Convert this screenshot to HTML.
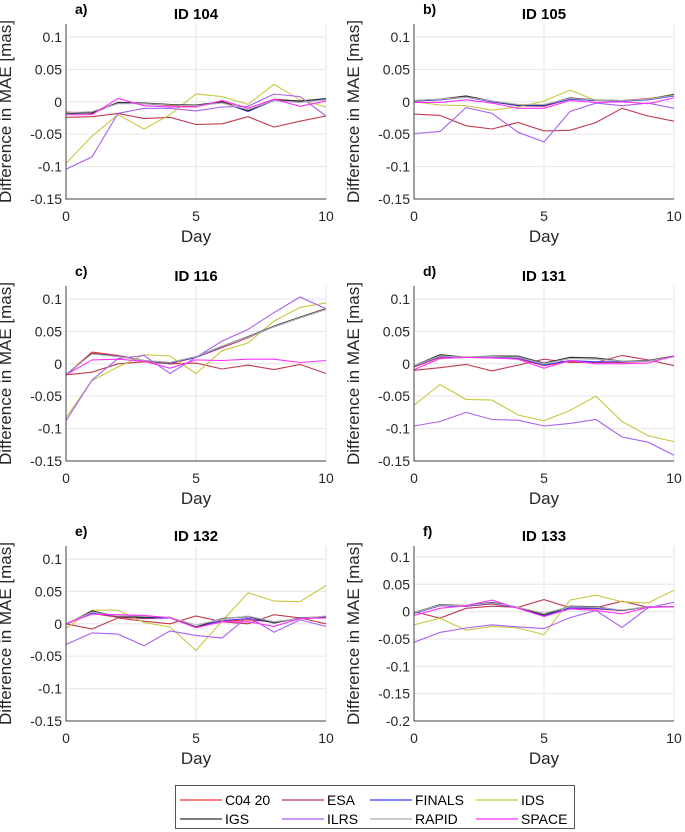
<!DOCTYPE html>
<html><head><meta charset="utf-8"><style>
body{margin:0;background:#fff;}
svg{display:block;font-family:"Liberation Sans",Arial,sans-serif;}
</style></head><body>
<svg id="fig" width="685" height="832" viewBox="0 0 685 832"></svg>
<script>
const days = [0,1,2,3,4,5,6,7,8,9,10];
const seriesNames = ["C04 20","ESA","FINALS","IDS","IGS","ILRS","RAPID","SPACE"];
const seriesColors = ["#ff3030","#c03a50","#3a3aff","#c8c840","#303030","#a860f0","#b0b0b0","#ff30ff"];
const panelIds = ["ID 104","ID 105","ID 116","ID 131","ID 132","ID 133"];
const panelLetters = ["a)","b)","c)","d)","e)","f)"];
const yTicksA = [-0.15,-0.1,-0.05,0,0.05,0.1];
const yTickLabelsA = ["-0.15","-0.1","-0.05","0","0.05","0.1"];
const yTicksF = [-0.2,-0.15,-0.1,-0.05,0,0.05,0.1];
const yTickLabelsF = ["-0.2","-0.15","-0.1","-0.05","0","0.05","0.1"];
const xTicks = [0,5,10];
// values per panel, ordered as seriesNames
const p104 = [
 [-0.016,-0.018,-0.001,-0.003,-0.006,-0.007,0.001,-0.014,0.004,0.001,0.004],
 [-0.024,-0.023,-0.018,-0.026,-0.024,-0.035,-0.034,-0.023,-0.039,-0.030,-0.022],
 [-0.018,-0.017,-0.002,-0.003,-0.005,-0.006,-0.001,-0.015,0.002,0.000,0.004],
 [-0.095,-0.053,-0.020,-0.042,-0.020,0.012,0.008,-0.004,0.027,0.003,-0.008],
 [-0.018,-0.017,-0.001,-0.002,-0.004,-0.005,0.000,-0.014,0.003,0.001,0.005],
 [-0.104,-0.085,-0.018,-0.010,-0.010,-0.014,-0.008,-0.007,0.012,0.008,-0.022],
 [-0.017,-0.015,-0.003,-0.003,-0.005,-0.006,-0.002,-0.012,0.002,-0.001,0.003],
 [-0.020,-0.020,0.005,-0.006,-0.008,-0.008,0.002,-0.010,0.004,-0.007,0.001]];
const p105 = [
 [0.001,0.003,0.008,0.000,-0.006,-0.007,0.004,0.002,0.002,0.005,0.009],
 [-0.019,-0.021,-0.037,-0.042,-0.032,-0.045,-0.044,-0.032,-0.010,-0.022,-0.030],
 [0.001,0.003,0.007,0.000,-0.006,-0.006,0.004,0.002,0.001,0.003,0.009],
 [0.000,-0.005,-0.006,-0.013,-0.008,0.001,0.018,0.002,0.002,0.004,0.012],
 [0.002,0.004,0.009,0.001,-0.005,-0.005,0.006,0.003,0.002,0.004,0.011],
 [-0.049,-0.046,-0.009,-0.018,-0.047,-0.062,-0.015,-0.002,-0.006,-0.002,-0.010],
 [0.002,0.004,0.007,0.001,-0.004,-0.004,0.005,0.003,0.002,0.004,0.010],
 [-0.001,-0.001,0.003,-0.002,-0.010,-0.010,0.002,-0.001,0.000,-0.003,0.006]];
const p116 = [
 [-0.017,0.018,0.013,0.005,0.000,0.010,0.025,0.040,0.058,0.072,0.085],
 [-0.017,-0.013,0.000,0.003,0.000,0.001,-0.008,-0.002,-0.009,-0.001,-0.015],
 [-0.017,0.016,0.012,0.005,0.001,0.010,0.026,0.041,0.057,0.071,0.084],
 [-0.083,-0.026,-0.005,0.014,0.012,-0.015,0.020,0.032,0.066,0.087,0.094],
 [-0.017,0.016,0.011,0.005,0.002,0.011,0.027,0.042,0.058,0.072,0.085],
 [-0.088,-0.025,0.008,0.013,-0.015,0.010,0.035,0.053,0.079,0.103,0.085],
 [-0.016,0.015,0.011,0.005,0.002,0.011,0.027,0.041,0.057,0.071,0.084],
 [-0.017,0.006,0.007,0.004,-0.007,0.006,0.005,0.007,0.007,0.002,0.005]];
const p131 = [
 [-0.005,0.010,0.010,0.009,0.008,-0.003,0.004,0.002,0.002,0.004,0.011],
 [-0.010,-0.006,-0.001,-0.011,-0.002,0.007,0.002,0.002,0.013,0.006,-0.003],
 [-0.004,0.011,0.010,0.010,0.009,-0.002,0.005,0.003,0.003,0.004,0.011],
 [-0.064,-0.032,-0.055,-0.056,-0.079,-0.088,-0.072,-0.050,-0.089,-0.111,-0.120],
 [-0.003,0.014,0.010,0.012,0.012,0.001,0.010,0.009,0.004,0.005,0.012],
 [-0.096,-0.089,-0.075,-0.086,-0.087,-0.096,-0.092,-0.086,-0.113,-0.121,-0.141],
 [-0.003,0.012,0.010,0.011,0.010,0.000,0.008,0.007,0.004,0.004,0.011],
 [-0.009,0.008,0.010,0.009,0.007,-0.007,0.005,0.000,0.000,0.001,0.012]];
const p132 = [
 [0.000,0.016,0.010,0.008,0.009,-0.006,0.004,0.006,0.003,0.008,0.010],
 [0.000,-0.008,0.009,0.004,0.000,0.012,0.003,0.000,0.014,0.009,0.000],
 [0.000,0.017,0.011,0.009,0.009,-0.005,0.005,0.008,0.002,0.008,0.010],
 [-0.007,0.021,0.021,0.002,-0.005,-0.041,0.004,0.048,0.035,0.034,0.059],
 [-0.001,0.020,0.011,0.010,0.010,-0.005,0.008,0.011,0.001,0.009,0.011],
 [-0.032,-0.014,-0.016,-0.034,-0.011,-0.018,-0.022,0.011,-0.013,0.006,-0.004],
 [0.000,0.018,0.012,0.012,0.010,-0.002,0.007,0.012,0.003,0.008,0.012],
 [0.000,0.015,0.014,0.013,0.009,-0.006,0.003,0.003,-0.004,0.008,0.009]];
const p133 = [
 [-0.003,0.011,0.010,0.014,0.007,-0.008,0.006,0.005,0.002,0.009,0.009],
 [0.000,-0.012,0.006,0.010,0.008,0.022,0.007,0.007,0.019,0.008,0.009],
 [-0.003,0.011,0.010,0.015,0.007,-0.007,0.007,0.006,0.002,0.009,0.009],
 [-0.024,-0.012,-0.034,-0.027,-0.030,-0.042,0.021,0.030,0.018,0.016,0.039],
 [-0.002,0.013,0.011,0.017,0.008,-0.006,0.010,0.009,0.002,0.009,0.009],
 [-0.056,-0.038,-0.030,-0.024,-0.028,-0.031,-0.011,0.002,-0.029,0.007,0.017],
 [-0.002,0.012,0.011,0.016,0.008,-0.003,0.009,0.008,0.003,0.009,0.009],
 [-0.007,0.006,0.011,0.021,0.006,-0.009,0.005,0.002,-0.004,0.008,0.009]];
const panelData = [p104,p105,p116,p131,p132,p133];

const NS = "http://www.w3.org/2000/svg";
const svg = document.getElementById('fig');
function mk(tag, attrs, parent){
  const e = document.createElementNS(NS, tag);
  for (const k in attrs) e.setAttribute(k, attrs[k]);
  (parent||svg).appendChild(e);
  return e;
}
const colX = [66, 414], rowY = [24, 286, 546], PW = 260, PH = 175;

panelData.forEach((data, pi) => {
  const x0 = colX[pi % 2], y0 = rowY[Math.floor(pi / 2)];
  const isF = pi === 5;
  const yMin = isF ? -0.2 : -0.15, yMax = 0.12;
  const ticks = isF ? yTicksF : yTicksA;
  const tickLabels = isF ? yTickLabelsF : yTickLabelsA;
  const sx = d => x0 + (d - 0) / 10 * PW;
  const sy = v => y0 + (yMax - v) / (yMax - yMin) * PH;
  const g = mk('g', {});
  
  
  ticks.forEach(t => {
    const l = mk('line', {x1:x0, x2:x0+PW, y1:sy(t), y2:sy(t), stroke:'#e6e6e6', 'stroke-width':1}, g);
    
    
  });
  xTicks.forEach(t => {
    const l = mk('line', {x1:sx(t), x2:sx(t), y1:y0, y2:y0+PH, stroke:'#e6e6e6', 'stroke-width':1}, g);
    
    
  });
  data.forEach((vals, si) => {
    const pts = vals.map((v, i) => sx(days[i]).toFixed(1) + ',' + sy(v).toFixed(1)).join(' ');
    const pl = mk('polyline', {points:pts, fill:'none', stroke:seriesColors[si], 'stroke-width':1.1}, g);
    
    
  });
  const ax = mk('path', {d:`M${x0},${y0} V${y0+PH} H${x0+PW}`, fill:'none', stroke:'#404040', 'stroke-width':1}, g);
  
  
  ticks.forEach((t, i) => {
    const tx = mk('text', {x:x0-4, y:sy(t)+5, 'text-anchor':'end', 'font-size':14, fill:'#262626'}, g);
    tx.textContent = tickLabels[i];
    
    
  });
  xTicks.forEach(t => {
    const tx = mk('text', {x:sx(t), y:y0+PH+22, 'text-anchor':'middle', 'font-size':14, fill:'#262626'}, g);
    tx.textContent = String(t);
    
    
  });
  const xl = mk('text', {x:x0+PW/2, y:y0+PH+43, 'text-anchor':'middle', 'font-size':17, fill:'#262626'}, g);
  xl.textContent = 'Day';
  
  
  const ycx = x0 - 55, ycy = y0 + PH/2;
  const yl = mk('text', {x:ycx, y:ycy, 'text-anchor':'middle', 'font-size':17, fill:'#262626', transform:`rotate(-90 ${ycx} ${ycy})`}, g);
  yl.textContent = 'Difference in MAE [mas]';
  
  
  const tt = mk('text', {x:x0+PW/2, y:y0-5, 'text-anchor':'middle', 'font-size':15, 'font-weight':'bold', fill:'#000'}, g);
  tt.textContent = panelIds[pi];
  
  
  const lt = mk('text', {x:x0+9, y:y0-10, 'font-size':14, 'font-weight':'bold', fill:'#000'}, g);
  lt.textContent = panelLetters[pi];
  
  
});

const lg = mk('g', {});


const lb = mk('rect', {x:175.5, y:785.5, width:399, height:43, fill:'#fff', stroke:'#555', 'stroke-width':1}, lg);


const legLineX = [180, 282, 370, 476];
const legRowY = [800, 819];
seriesNames.forEach((n, i) => {
  const c = i % 4, r = Math.floor(i / 4);
  const eg = mk('g', {}, lg);
  
  
  mk('line', {x1:legLineX[c], x2:legLineX[c]+42, y1:legRowY[r], y2:legRowY[r], stroke:seriesColors[i], 'stroke-width':1.2}, eg);
  const t = mk('text', {x:legLineX[c]+45, y:legRowY[r]+5, 'font-size':14, fill:'#000'}, eg);
  t.textContent = n;
});
</script>
</body></html>
